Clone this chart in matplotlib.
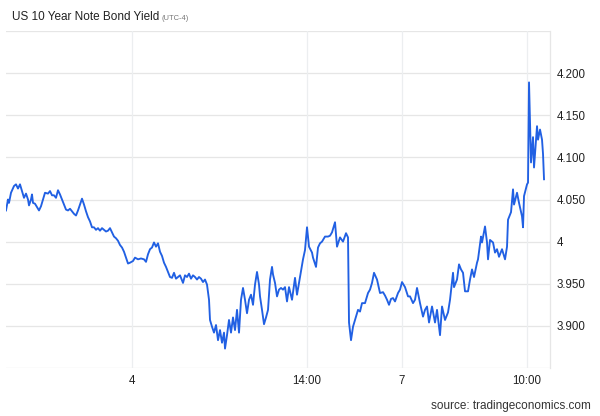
import matplotlib
matplotlib.use("Agg")
import matplotlib.pyplot as plt

# time index (intraday bars) and yield values
t = [6, 8, 9, 11, 14, 16, 18, 20, 22, 24, 26, 28, 29, 31, 32, 33, 35, 37, 39, 41,
     43, 45, 48, 50, 52, 54, 56, 58, 60, 62, 64, 66, 68, 70, 72, 74, 76, 78, 80, 82,
     84, 86, 88, 90, 92, 94, 96, 98, 100, 102, 104, 106, 108, 110, 112, 114, 116, 118, 120, 122,
     124, 126, 128, 130, 133, 135, 138, 141, 144, 146, 148, 150, 152, 154, 156, 158, 160, 162, 164, 166,
     168, 170, 172, 174, 176, 178, 180, 183, 185, 187, 189, 191, 193, 195, 197, 199, 201, 203, 205, 207,
     209, 210, 212, 214, 216, 218, 220, 222, 224, 225, 227, 229, 231, 233, 235, 237, 239, 241, 243, 245,
     247, 249, 251, 253, 255, 257, 259, 260, 262, 264, 266, 268, 270, 272, 273, 275, 277, 279, 281, 283,
     285, 287, 289, 292, 295, 297, 300, 303, 305, 307, 309, 312, 313, 316, 318, 320, 322, 325, 328, 330,
     332, 335, 337, 340, 343, 346, 348, 349, 351, 353, 356, 358, 360, 362, 365, 368, 370, 372, 374, 377,
     380, 383, 385, 387, 389, 391, 393, 395, 398, 400, 402, 405, 408, 410, 413, 415, 417, 420, 423, 425,
     427, 429, 432, 435, 437, 440, 442, 445, 448, 450, 453, 454, 457, 459, 461, 463, 465, 468, 470, 472,
     474, 477, 478, 481, 482, 485, 487, 488, 490, 493, 495, 497, 499, 502, 505, 507, 508, 511, 513, 514,
     517, 519, 522, 523, 524, 527, 528, 529, 531, 533, 534, 537, 538, 540, 542, 543, 544]

yld = [4.037, 4.050, 4.046, 4.058, 4.066, 4.068, 4.063, 4.068, 4.060, 4.052, 4.057, 4.050, 4.043, 4.050, 4.056, 4.046, 4.045, 4.041, 4.037, 4.042,
       4.050, 4.058, 4.057, 4.060, 4.055, 4.055, 4.052, 4.061, 4.056, 4.050, 4.044, 4.038, 4.037, 4.039, 4.036, 4.033, 4.031, 4.037, 4.044, 4.051,
       4.044, 4.036, 4.029, 4.024, 4.017, 4.017, 4.014, 4.016, 4.013, 4.016, 4.014, 4.012, 4.013, 4.016, 4.011, 4.006, 4.004, 4.001, 3.996, 3.993,
       3.988, 3.981, 3.974, 3.975, 3.977, 3.981, 3.979, 3.980, 3.979, 3.976, 3.985, 3.991, 3.993, 3.999, 3.994, 3.998, 3.988, 3.983, 3.975, 3.970,
       3.964, 3.958, 3.957, 3.963, 3.956, 3.958, 3.960, 3.951, 3.960, 3.958, 3.962, 3.956, 3.960, 3.958, 3.955, 3.958, 3.956, 3.952, 3.955, 3.949,
       3.931, 3.907, 3.899, 3.892, 3.901, 3.883, 3.895, 3.880, 3.892, 3.873, 3.889, 3.907, 3.892, 3.910, 3.895, 3.919, 3.892, 3.931, 3.945, 3.931,
       3.915, 3.931, 3.937, 3.925, 3.949, 3.964, 3.949, 3.935, 3.919, 3.902, 3.910, 3.919, 3.955, 3.970, 3.961, 3.951, 3.935, 3.943, 3.945, 3.943,
       3.946, 3.929, 3.946, 3.931, 3.957, 3.937, 3.958, 3.979, 3.990, 4.017, 3.994, 3.987, 3.981, 3.970, 3.993, 3.998, 4.000, 4.006, 4.006, 4.007,
       4.011, 4.023, 3.994, 4.005, 4.000, 4.010, 4.005, 3.904, 3.883, 3.899, 3.911, 3.919, 3.917, 3.927, 3.927, 3.939, 3.943, 3.951, 3.963, 3.955,
       3.939, 3.940, 3.936, 3.931, 3.925, 3.932, 3.933, 3.929, 3.939, 3.943, 3.952, 3.946, 3.935, 3.935, 3.927, 3.931, 3.945, 3.927, 3.911, 3.919,
       3.923, 3.904, 3.923, 3.904, 3.919, 3.889, 3.923, 3.907, 3.916, 3.931, 3.963, 3.946, 3.955, 3.973, 3.967, 3.963, 3.941, 3.941, 3.955, 3.967,
       3.958, 3.975, 3.979, 4.006, 3.999, 4.018, 3.999, 3.979, 4.002, 3.999, 3.987, 3.991, 3.982, 3.991, 3.979, 3.994, 4.026, 4.035, 4.062, 4.044,
       4.058, 4.046, 4.030, 4.017, 4.054, 4.068, 4.070, 4.189, 4.094, 4.124, 4.088, 4.137, 4.121, 4.133, 4.121, 4.104, 4.074]

x_tick_pos = [132, 307, 402, 527]
x_tick_labels = ["4", "14:00", "7", "10:00"]
y_ticks = [3.90, 3.95, 4.00, 4.05, 4.10, 4.15, 4.20]
y_tick_labels = ["3.900", "3.950", "4", "4.050", "4.100", "4.150", "4.200"]
grid_y = [3.85, 3.90, 3.95, 4.00, 4.05, 4.10, 4.15, 4.20, 4.25]

plt.rcParams['font.family'] = ['Liberation Sans', 'DejaVu Sans']

fig = plt.figure(figsize=(6.0, 4.16), dpi=100)
ax = fig.add_axes([0.01, 1 - 368 / 416, 0.9067, (368 - 31) / 416])

grid_color = '#e6e6e6'
for gy in grid_y:
    ax.axhline(gy, color=grid_color, lw=0.9, zorder=0)
for gx in x_tick_pos:
    ax.axvline(gx, color='#eceef0', lw=0.9, zorder=0)

ax.plot(t, yld, color='#2160e3', lw=1.35, solid_joinstyle='round', zorder=3)

ax.set_xlim(6, 550)
ax.set_ylim(3.85, 4.25)

for s in ['left', 'top', 'bottom']:
    ax.spines[s].set_visible(False)
ax.spines['right'].set_color(grid_color)
ax.spines['right'].set_linewidth(0.9)

ax.yaxis.tick_right()
ax.set_yticks(y_ticks)
ax.set_yticklabels(y_tick_labels)
ax.set_xticks(x_tick_pos)
ax.set_xticklabels(x_tick_labels)
ax.tick_params(axis='both', length=0, labelsize=8.3, colors='#222222')
ax.tick_params(axis='y', pad=4.5)
ax.tick_params(axis='x', pad=5)

title = fig.text(12 / 600, 1 - 17 / 416, "US 10 Year Note Bond Yield", fontsize=8.5,
                 color='#222222', va='center', ha='left')
fig.canvas.draw()
bb = title.get_window_extent()
fig.text((bb.x1 + 2) / 600, 1 - 18 / 416, "(UTC-4)", fontsize=5.4, color='#777777',
         va='center', ha='left')
fig.text(591 / 600, 1 - 406 / 416, "source: tradingeconomics.com", fontsize=8.5,
         color='#333333', va='center', ha='right')

fig.savefig("out.png", dpi=100)
